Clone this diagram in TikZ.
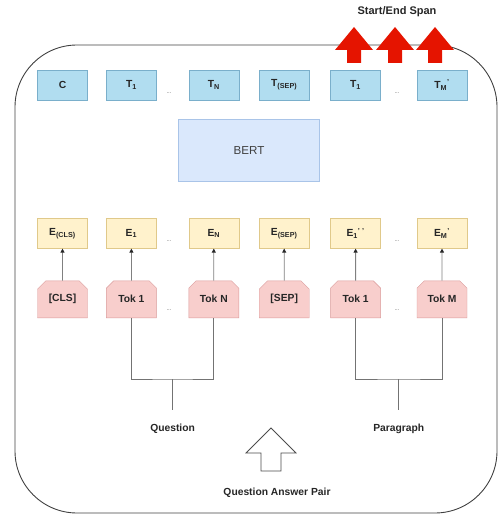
\documentclass[tikz,border=0pt]{standalone}
\usepackage{fontspec}
\setmainfont{Liberation Sans}
\usepackage{tikz}
\usetikzlibrary{positioning,calc,shapes.misc,arrows.meta,backgrounds}
\definecolor{tokfill}{HTML}{F8CECC}
\definecolor{tokline}{HTML}{D99A9A}
\definecolor{embfill}{HTML}{FFF2CC}
\definecolor{embline}{HTML}{E0C98A}
\definecolor{outfill}{HTML}{B1DDF0}
\definecolor{outdraw}{HTML}{7AAFCB}
\definecolor{bertfill}{HTML}{DAE8FC}
\definecolor{bertline}{HTML}{A9C4E8}
\definecolor{spanred}{HTML}{E51400}

\begin{document}
\begin{tikzpicture}[
  x = 1pt,
  y = 1pt,
  outbox/.style = {
    draw = outdraw,
    fill = outfill,
    rectangle,
    inner sep = 0pt,
    minimum width = 50pt,
    minimum height = 30pt,
    font = \fontsize{10.3}{11}\selectfont\bfseries,
    text = black!85,
  },
  embbox/.style = {
    outbox,
    draw = embline,
    fill = embfill,
  },
  tokbox/.style = {
    draw = tokline,
    fill = tokfill,
    chamfered rectangle,
    chamfered rectangle corners = {north west, north east},
    chamfered rectangle xsep = 9pt,
    inner sep = 0pt,
    minimum width = 50pt,
    minimum height = 37pt,
    font = \fontsize{10.3}{11}\selectfont\bfseries,
    text = black!85,
  },
  bertbox/.style = {
    draw = bertline,
    fill = bertfill,
    rectangle,
    minimum width = 141pt,
    minimum height = 62pt,
    font = \fontsize{11.6}{13}\selectfont,
    text = black!75,
  },
  dotlbl/.style = {
    font = \fontsize{6}{6}\selectfont,
    text = black!60,
    inner sep = 0pt,
  },
  lbl/.style = {
    font = \fontsize{10.3}{11}\selectfont\bfseries,
    text = black!85,
  },
  feed/.style = {
    draw = black!50,
    line width = 0.8pt,
    -{Triangle[length=4pt,width=4pt,color=black!85]},
  },
  joinline/.style = {
    draw = black!55,
    line width = 0.8pt,
  },
  framebox/.style = {
    draw = black!75,
    line width = 0.9pt,
    rounded corners = 62pt,
  },
  spanarrow/.style = {
    fill = spanred,
  },
  qaarrow/.style = {
    draw = black!70,
    line width = 0.8pt,
    fill = white,
  },
]
  \useasboundingbox (0,0) rectangle (500,-518);

  % output row
  \node[outbox] (c) at (62.5,-85) {C};
  \node[outbox] (t1) [right=18.5pt of c] {T\textsubscript{1}};
  \node[outbox] (tn) [right=32pt of t1] {T\textsubscript{N}};
  \node[outbox] (tsep) [right=20pt of tn] {T\textsubscript{(SEP)}};
  \node[outbox] (tp1) [right=21pt of tsep] {T\textsubscript{1}};
  \node[outbox] (tpm) [right=36pt of tp1] {T\textsubscript{M}\textsuperscript{'}};
  \node[dotlbl] (dt1) at (169,-93) {...};
  \node[dotlbl] (dt2) at (397,-93) {...};

  % bert
  \coordinate (mid) at ($(tn.south)!0.5!(tsep.south)$);
  \node[bertbox] (bert) [below=19pt of mid] {BERT};

  % embedding row
  \node[embbox] (ecls) [below=118pt of c] {E\textsubscript{(CLS)}};
  \node[embbox] (e1) [below=118pt of t1] {E\textsubscript{1}};
  \node[embbox] (en) [below=118pt of tn] {E\textsubscript{N}};
  \node[embbox] (esep) [below=118pt of tsep] {E\textsubscript{(SEP)}};
  \node[embbox] (ep1) [below=118pt of tp1] {E\textsubscript{1}\textsuperscript{'}\,\textsuperscript{'}};
  \node[embbox] (epm) [below=118pt of tpm] {E\textsubscript{M}\textsuperscript{'}};
  \node[dotlbl] (de1) at (169,-241) {...};
  \node[dotlbl] (de2) at (397,-241) {...};

  % token row
  \node[tokbox] (tokcls) [below=32pt of ecls] {[CLS]};
  \node[tokbox] (tok1) [below=32pt of e1] {Tok 1};
  \node[tokbox] (tokn) [below=32pt of en] {Tok N};
  \node[tokbox] (toksep) [below=32pt of esep] {[SEP]};
  \node[tokbox] (tokp1) [below=32pt of ep1] {Tok 1};
  \node[tokbox] (tokpm) [below=32pt of epm] {Tok M};
  \node[dotlbl] (dk1) at (169,-310) {...};
  \node[dotlbl] (dk2) at (397,-310) {...};

  \draw[feed] (tokcls) -- (ecls);
  \draw[feed] (tok1) -- (e1);
  \draw[feed] (tokn) -- (en);
  \draw[feed] (toksep) -- (esep);
  \draw[feed] (tokp1) -- (ep1);
  \draw[feed] (tokpm) -- (epm);

  % inputs
  \coordinate (qj) at ($(tok1.south)!0.5!(tokn.south)+(0,-61)$);
  \coordinate (pj) at ($(tokp1.south)!0.5!(tokpm.south)+(0,-61)$);
  \node[lbl] (question) at ($(qj)+(0,-50)$) {Question};
  \node[lbl] (paragraph) at ($(pj)+(0,-50)$) {Paragraph};
  \draw[joinline] (tok1.south) |- (qj) -| (tokn.south);
  \draw[joinline] (tokp1.south) |- (pj) -| (tokpm.south);
  \draw[joinline,shorten >=11pt] (qj) -- (question);
  \draw[joinline,shorten >=11pt] (pj) -- (paragraph);

  \node[lbl] (pair) at (277,-493) {Question Answer Pair};
  \draw[qaarrow] (271,-428) -- (296,-453) -- (281,-453) -- (281,-471)
    -- (261,-471) -- (261,-453) -- (246,-453) -- cycle;

  % span arrows
  \node[lbl,font=\fontsize{11}{12}\selectfont\bfseries] (spanlbl) at (397,-12) {Start/End Span};
  \foreach \x in {354,395,435} {
    \fill[spanarrow] (\x,-27) -- (\x+19,-50) -- (\x+7,-50) -- (\x+7,-63)
      -- (\x-7,-63) -- (\x-7,-50) -- (\x-19,-50) -- cycle;
  }

  \begin{scope}[on background layer]
    \draw[framebox] (15,-45) rectangle (497,-513);
  \end{scope}

\end{tikzpicture}
\end{document}
